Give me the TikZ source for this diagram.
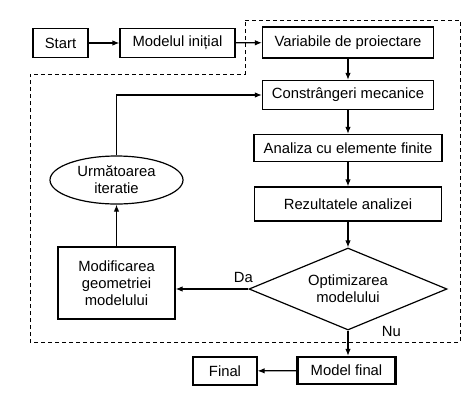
\documentclass[tikz,border=0pt]{standalone}
\usepackage{fontspec}
\setmainfont{Liberation Sans}
\usetikzlibrary{shapes.geometric,arrows.meta}
\begin{document}
\begin{tikzpicture}[x=1pt,y=-1pt,
  txt/.style={font=\fontsize{14.8}{17}\selectfont},
  box/.style={draw,line width=1.2pt,minimum height=#1,inner sep=0pt,txt,align=center},
  box/.default=29pt,
  arr/.style={line width=1.2pt,-{Latex[length=7pt,width=5.5pt]}},
  lbl/.style={txt}]
\useasboundingbox (0,0) rectangle (474,408);
\fill[white] (0,0) rectangle (474,408);
% dashed region
\draw[line width=1pt,dash pattern=on 4pt off 3pt]
  (245,20) -- (460,20) -- (460,342) -- (30,342) -- (30,74) -- (245,74) -- cycle;
\node[box, minimum width=55pt] (start) at (60.5,43) {Start};
\node[box, minimum width=115pt] (model) at (177.5,43) {Modelul inițial};
\node[box=31pt, minimum width=171pt] (var) at (348,42.5) {Variabile de proiectare};
\node[box=29pt, minimum width=171pt] (con) at (348,95) {Constrângeri mecanice};
\node[box=27pt, minimum width=188pt] (ana) at (348,148) {Analiza cu elemente finite};
\node[box=34pt, minimum width=187pt] (rez) at (348,204) {Rezultatele analizei};
\node[draw,diamond,line width=1.2pt,minimum width=198pt,minimum height=82pt,inner sep=0pt,aspect=2.4,
  txt,align=center] (opt) at (348,289) {Optimizarea\\modelului};
\node[draw,ellipse,line width=1.2pt,minimum width=133pt,minimum height=48pt,inner sep=0pt,
  txt,align=center] (urm) at (116.5,180) {Următoarea\\iteratie};
\node[box=72pt, minimum width=117pt] (mod) at (116.5,283) {Modificarea\\geometriei\\modelului};
\node[draw,line width=2.3pt,minimum width=98pt,minimum height=27pt,inner sep=0pt,
  txt] (fin) at (346.5,370.5) {Model final};
\node[box=28pt, minimum width=64pt] (final) at (225,371) {Final};
% connectors
\draw[arr] (start) -- (model);
\draw[arr] (model) -- (var);
\draw[arr] (var) -- (con);
\draw[arr] (con) -- (ana);
\draw[arr] (ana) -- (rez);
\draw[arr] (rez) -- (opt);
\draw[arr] (opt.west) -- (mod.east |- opt.west) node[lbl, pos=0.07, above, yshift=2pt] {Da};
\draw[arr] (opt.south) -- (opt.south |- fin.north) node[lbl, pos=0.05, right, xshift=30pt] {Nu};
\draw[arr] (fin) -- (final);
\draw[arr] (mod) -- (urm);
\draw[arr] (urm.north) |- (con.west);
\end{tikzpicture}
\end{document}
